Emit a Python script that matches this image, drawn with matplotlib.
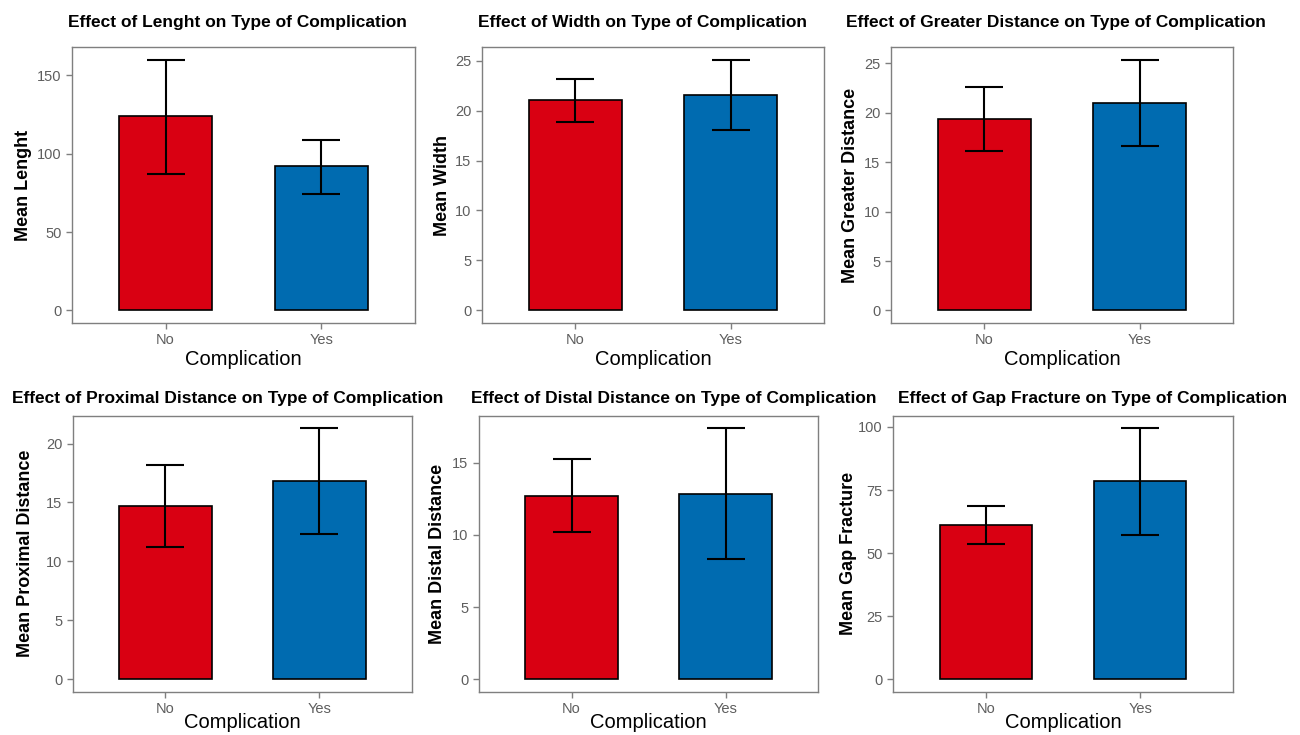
import matplotlib
matplotlib.use("Agg")
import matplotlib.pyplot as plt

plt.rcParams['font.family'] = ['Liberation Sans', 'DejaVu Sans']

# group labels and bar colours
groups = ["No", "Yes"]
bar_colors = ["#D90012", "#006BB0"]

# mean and error bar limits
length_mean = [123.8, 91.9]
length_low = [87.0, 74.0]
length_high = [160.0, 109.0]

width_mean = [21.1, 21.6]
width_low = [18.9, 18.1]
width_high = [23.2, 25.1]

greater_mean = [19.4, 21.0]
greater_low = [16.1, 16.6]
greater_high = [22.6, 25.4]

proximal_mean = [14.7, 16.8]
proximal_low = [11.2, 12.3]
proximal_high = [18.2, 21.3]

distal_mean = [12.7, 12.85]
distal_low = [10.2, 8.3]
distal_high = [15.25, 17.4]

gap_mean = [61.1, 78.5]
gap_low = [53.4, 57.2]
gap_high = [68.7, 99.5]

titles = ["Effect of Lenght on Type of Complication",
          "Effect of Width on Type of Complication",
          "Effect of Greater Distance on Type of Complication",
          "Effect of Proximal Distance on Type of Complication",
          "Effect of Distal Distance on Type of Complication",
          "Effect of Gap Fracture on Type of Complication"]
ylabels = ["Mean Lenght", "Mean Width", "Mean Greater Distance",
           "Mean Proximal Distance", "Mean Distal Distance", "Mean Gap Fracture"]
yticks = [[0, 50, 100, 150],
          [0, 5, 10, 15, 20, 25],
          [0, 5, 10, 15, 20, 25],
          [0, 5, 10, 15, 20],
          [0, 5, 10, 15],
          [0, 25, 50, 75, 100]]

data = [(length_mean, length_low, length_high),
        (width_mean, width_low, width_high),
        (greater_mean, greater_low, greater_high),
        (proximal_mean, proximal_low, proximal_high),
        (distal_mean, distal_low, distal_high),
        (gap_mean, gap_low, gap_high)]

# layout: axes rect, y label x (axes fraction), title centre (fig fraction)
W, H = 1300, 735
boxes = [(72, 47, 343, 276), (482, 47, 342, 276), (891, 47, 342, 276),
         (72.7, 415.7, 339.3, 276), (479, 415.7, 339.3, 276), (893.3, 415.7, 339.3, 276)]
ylab_x = [-0.117, -0.092, -0.094, -0.114, -0.097, -0.107]
title_pos = [(237.5, 23), (643, 23), (1056, 23), (227.5, 398), (673.5, 398), (1093, 398)]

fig = plt.figure(figsize=(13, 7.35), dpi=100)

for i in range(6):
    x0, y0, w, h = boxes[i]
    ax = fig.add_axes([x0 / W, 1 - (y0 + h) / H, w / W, h / H])
    mean, low, high = data[i]
    pos = [1, 2]
    ax.bar(pos, mean, width=0.6, color=bar_colors, edgecolor="black", linewidth=1.2, zorder=2)
    lower = [m - l for m, l in zip(mean, low)]
    upper = [hh - m for m, hh in zip(mean, high)]
    ax.errorbar(pos, mean, yerr=[lower, upper], fmt="none", ecolor="black",
                elinewidth=1.5, capsize=14, capthick=1.5, zorder=3)
    top = max(high)
    ax.set_ylim(-0.05 * top, 1.05 * top)
    ax.set_xlim(0.4, 2.6)
    ax.set_xticks(pos)
    ax.set_xticklabels(groups)
    ax.set_yticks(yticks[i])
    ax.tick_params(colors="#7f7f7f", labelcolor="#5e5e5e", labelsize=10.5, length=4, width=1)
    for s in ax.spines.values():
        s.set_color("#7f7f7f")
        s.set_linewidth(1)
    # bottom row: keep the x title just inside the image
    pad = 2 if i < 3 else -2.5
    ax.set_xlabel("Complication", fontsize=14.5, labelpad=pad)
    ax.set_ylabel(ylabels[i], fontsize=13, fontweight="bold")
    ax.yaxis.set_label_coords(ylab_x[i], 0.5)
    tx, ty = title_pos[i]
    fig.text(tx / W, 1 - ty / H, titles[i], ha="center", va="center",
             fontsize=12.5, fontweight="bold")

fig.savefig("out.png", dpi=100)
